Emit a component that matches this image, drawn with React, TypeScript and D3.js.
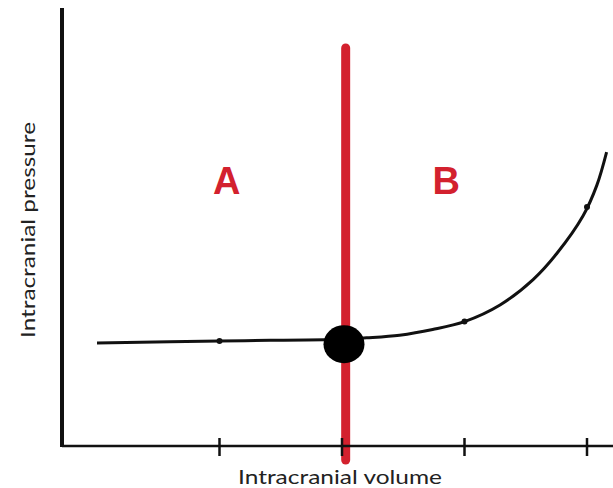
import React from "react";
import * as d3 from "d3";

const volume = [0, 1, 2, 2.2, 2.47, 2.74, 3, 3.29, 3.56, 3.755, 3.967, 4.08, 4.16];
const pressure = [23.5, 24.0, 24.4, 24.7, 25.3, 26.6, 28.4, 32.2, 38.0, 44.0, 52.5, 59.5, 67.1];
const tickVolumes = [1, 2, 3, 4];
const markerVolumes = [1, 3, 4];
const dotVolume = 2;
const boundaryVolume = 2.03;
const regionLabels = ["A", "B"];
const regionLabelVolumes = [1.06, 2.85];
const regionLabelPressure = 57.5;
const xLabel = "Intracranial volume";
const yLabel = "Intracranial pressure";

const W = 613;
const H = 488;

export default function App() {
  const x = d3.scaleLinear().domain([0, 4]).range([97, 587]);
  const y = d3.scaleLinear().domain([0, 100]).range([446, 8]);
  const xMin = x.invert(62);
  const xMax = x.invert(W + 2);

  const pts: [number, number][] = volume.map((v, i) => [v, pressure[i]]);
  const line = d3
    .line<[number, number]>()
    .x((d) => x(d[0]))
    .y((d) => y(d[1]))
    .curve(d3.curveCatmullRom.alpha(0.5));

  const interp = (v: number) => {
    for (let i = 0; i < volume.length - 1; i++) {
      if (v >= volume[i] && v <= volume[i + 1]) {
        const t = (v - volume[i]) / (volume[i + 1] - volume[i]);
        return pressure[i] + t * (pressure[i + 1] - pressure[i]);
      }
    }
    return pressure[pressure.length - 1];
  };

  const red = "#d3212e";

  return (
    <svg
      width={W}
      height={H}
      style={{ position: "absolute", left: 0, top: 0, background: "#fff" }}
    >
      <rect x={0} y={0} width={W} height={H} fill="#fff" />
      {/* red boundary */}
      <line
        x1={x(boundaryVolume)}
        x2={x(boundaryVolume)}
        y1={48}
        y2={460}
        stroke={red}
        strokeWidth={9}
        strokeLinecap="round"
      />
      {/* axes */}
      <line x1={x(xMin)} x2={x(xMax)} y1={y(0)} y2={y(0)} stroke="#111" strokeWidth={2.5} />
      <line x1={x(xMin)} x2={x(xMin)} y1={y(100)} y2={y(0) + 1} stroke="#111" strokeWidth={4} />
      {tickVolumes.map((v) => (
        <line
          key={v}
          x1={x(v)}
          x2={x(v)}
          y1={y(0) - 8}
          y2={y(0) + 10}
          stroke="#111"
          strokeWidth={2.5}
        />
      ))}
      {/* curve */}
      <path d={line(pts) || ""} fill="none" stroke="#111" strokeWidth={3} />
      {markerVolumes.map((v) => (
        <circle key={v} cx={x(v)} cy={y(interp(v))} r={3} fill="#111" />
      ))}
      <ellipse cx={x(dotVolume) + 2} cy={y(interp(dotVolume)) + 5} rx={20.5} ry={19} fill="#000" />
      {/* region labels */}
      {regionLabels.map((t, i) => (
        <text
          key={t}
          x={x(regionLabelVolumes[i])}
          y={y(regionLabelPressure)}
          fill={red}
          fontFamily="Liberation Sans, Arial, sans-serif"
          fontWeight="bold"
          fontSize={38}
          textAnchor="middle"
        >
          {t}
        </text>
      ))}
      {/* axis labels */}
      <text
        x={340}
        y={484}
        fill="#222"
        fontFamily="Lato, sans-serif"
        fontSize={20}
        textAnchor="middle"
        textLength={204}
        lengthAdjust="spacingAndGlyphs"
      >
        {xLabel}
      </text>
      <text
        transform="translate(35,230) rotate(-90)"
        fill="#222"
        fontFamily="Lato, sans-serif"
        fontSize={20}
        textAnchor="middle"
        textLength={216}
        lengthAdjust="spacingAndGlyphs"
      >
        {yLabel}
      </text>
    </svg>
  );
}
